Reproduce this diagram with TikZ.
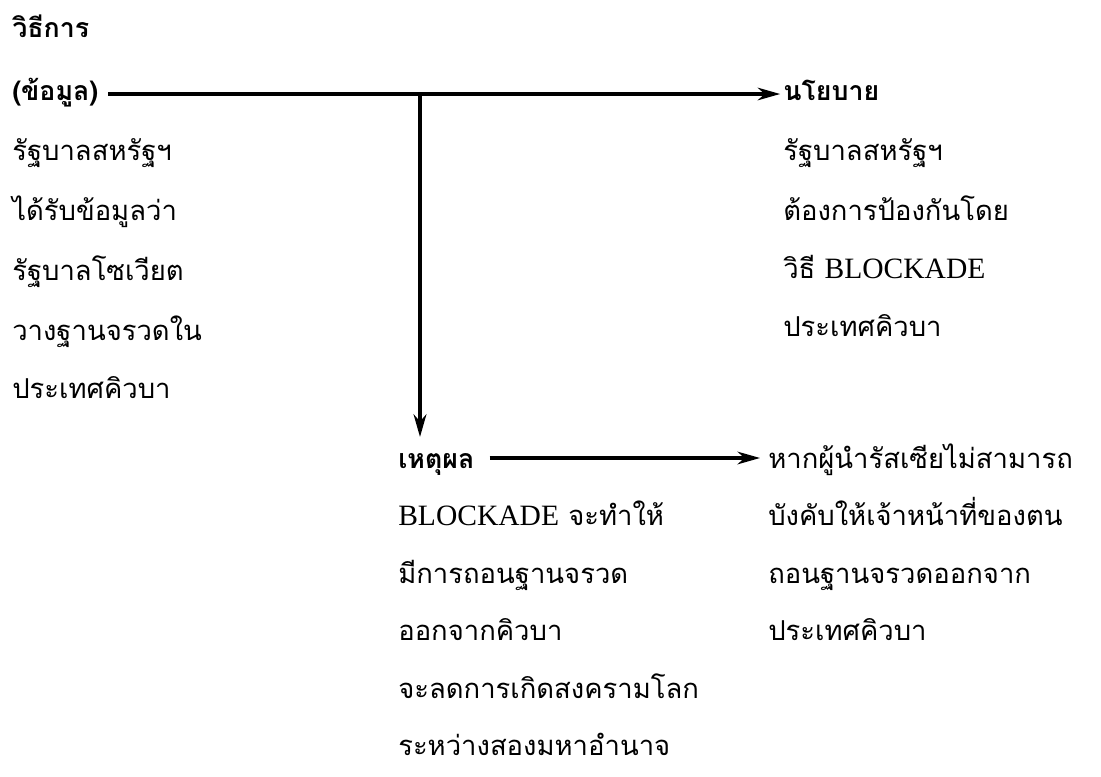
\documentclass[tikz,border=0pt]{standalone}
\usepackage{fontspec}
\setmainfont{Liberation Serif}
\newfontfamily\thaifont[Script=Thai]{Loma}
\usetikzlibrary{arrows.meta}
\newcommand{\eng}[1]{{\rmfamily\fontsize{21}{23}\selectfont #1}}

\begin{document}
\begin{tikzpicture}[
    x=0.025cm, y=-0.025cm,
    txt/.style={anchor=base west, inner sep=0pt, font=\thaifont\fontsize{19.5}{23}\selectfont},
    head/.style={txt, font=\thaifont\bfseries\fontsize{19}{23}\selectfont},
    link/.style={line width=2.2pt, -{Stealth[length=16pt, width=9pt, inset=5pt]}}
]
\useasboundingbox (0,0) rectangle (1101,777);

% left column
\node[head] (method) at (12,37) {วิธีการ};
\node[head] (data) at (12,100) {(ข้อมูล)};
\node[txt] (l1) at (12,160) {รัฐบาลสหรัฐฯ};
\node[txt] (l2) at (12,220) {ได้รับข้อมูลว่า};
\node[txt] (l3) at (12,280) {รัฐบาลโซเวียต};
\node[txt] (l4) at (12,340) {วางฐานจรวดใน};
\node[txt] (l5) at (12,398) {ประเทศคิวบา};

% right column, top
\node[head] (policy) at (783,100) {นโยบาย};
\node[txt] (p1) at (783,160) {รัฐบาลสหรัฐฯ};
\node[txt] (p2) at (783,220) {ต้องการป้องกันโดย};
\node[txt] (p3) at (783,278) {วิธี \eng{BLOCKADE}};
\node[txt] (p4) at (783,336) {ประเทศคิวบา};

% middle column
\node[head] (reason) at (398,468) {เหตุผล};
\node[txt] (r1) at (398,525) {\eng{BLOCKADE} จะทำให้};
\node[txt] (r2) at (398,583) {มีการถอนฐานจรวด};
\node[txt] (r3) at (398,640) {ออกจากคิวบา};
\node[txt] (r4) at (398,698) {จะลดการเกิดสงครามโลก};
\node[txt] (r5) at (398,755) {ระหว่างสองมหาอำนาจ};

% right column, bottom
\node[txt] (cond) at (768,468) {หากผู้นำรัสเซียไม่สามารถ};
\node[txt] (c1) at (768,525) {บังคับให้เจ้าหน้าที่ของตน};
\node[txt] (c2) at (768,583) {ถอนฐานจรวดออกจาก};
\node[txt] (c3) at (768,640) {ประเทศคิวบา};

\coordinate (branch) at (420,94);

\draw[link] ([xshift=7]data.east |- branch) -- ([xshift=-2]policy.west |- branch);
\draw[link, line width=2.8pt] (branch) -- (branch |- 0,437);
\draw[link] ([shift={(15,-10)}]reason.base east) -- ([shift={(-8,-10)}]cond.base west);
\end{tikzpicture}
\end{document}
